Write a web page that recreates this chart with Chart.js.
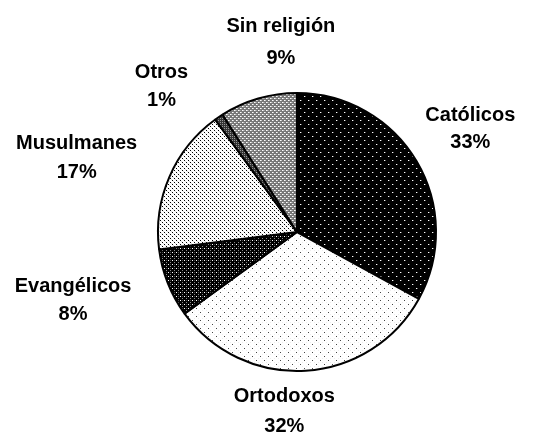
<!DOCTYPE html>
<html>
<head>
<meta charset="utf-8">
<script src="https://cdn.jsdelivr.net/npm/chart.js@4.4.0/dist/chart.umd.min.js"></script>
<style>
  html, body { margin: 0; padding: 0; background: #fff; }
  #wrap { width: 541px; height: 438px; }
</style>
</head>
<body>
<div id="wrap"><canvas id="myChart"></canvas></div>
<script>
var labels = ['Católicos', 'Ortodoxos', 'Evangélicos', 'Musulmanes', 'Otros', 'Sin religión'];
var values = [33, 32, 8, 17, 1, 9];

// little tiles for the hatch fills
function makePattern(size, bg, dots) {
    var c = document.createElement('canvas');
    c.width = size; c.height = size;
    var g = c.getContext('2d');
    g.fillStyle = bg;
    g.fillRect(0, 0, size, size);
    for (let i = 0; i < dots.length; i++) {
        g.fillStyle = dots[i][2];
        g.fillRect(dots[i][0], dots[i][1], 1, 1);
    }
    return g.createPattern(c, 'repeat');
}

var fills = [
    makePattern(8, '#000', [[0,0,'#fff'],[4,4,'#fff'],[1,0,'#555'],[5,4,'#555']]),
    makePattern(8, '#fff', [[0,0,'#444'],[4,4,'#444'],[2,2,'#eee'],[6,6,'#eee'],[2,6,'#eee'],[6,2,'#eee']]),
    makePattern(4, '#000', [[0,0,'#fff'],[2,2,'#888'],[2,0,'#444']]),
    makePattern(4, '#fff', [[0,0,'#000'],[2,2,'#000'],[1,1,'#ddd'],[3,3,'#ddd']]),
    makePattern(2, '#333', [[0,0,'#999']]),
    makePattern(4, '#777', [[0,0,'#fff'],[2,2,'#fff'],[1,0,'#ccc'],[3,2,'#ccc'],[0,2,'#999']])
];

// small hand shifts so the labels sit where the original put them
var labelNudge = [[-4,-10],[-26,-5],[-20,1],[-17,-1],[-30,6],[44,-10]];
var lineGap = [27, 30, 28, 29, 28, 32];

var outsideLabels = {
    id: 'outsideLabels',
    afterDatasetsDraw(chart) {
        var ctx = chart.ctx;
        var meta = chart.getDatasetMeta(0);
        var total = values.reduce((a, b) => a + b, 0);
        ctx.save();
        ctx.font = 'bold 20px "Liberation Sans", Arial, sans-serif';
        ctx.fillStyle = '#000';
        ctx.textAlign = 'center';
        ctx.textBaseline = 'middle';
        meta.data.forEach((arc, i) => {
            var lineH = lineGap[i];
            var mid = (arc.startAngle + arc.endAngle) / 2;
            var dx = Math.cos(mid), dy = Math.sin(mid);
            var pct = Math.round(values[i] / total * 100) + '%';
            var w = Math.max(ctx.measureText(labels[i]).width, ctx.measureText(pct).width);
            var h = lineH * 2;
            var r = arc.outerRadius + 22;
            var cx = arc.x + dx * (r + w / 2) + labelNudge[i][0];
            var cy = arc.y + dy * (r + h / 2 - 6) + labelNudge[i][1];
            ctx.fillText(labels[i], cx, cy - lineH / 2);
            ctx.fillText(pct, cx, cy + lineH / 2);
        });
        ctx.restore();
    }
};

var ctx = document.getElementById('myChart').getContext('2d');
var myChart = new Chart(ctx, {
    type: 'pie',
    data: {
        labels: labels,
        datasets: [{
            data: values,
            backgroundColor: fills,
            borderColor: '#000',
            borderWidth: 2
        }]
    },
    options: {
        responsive: true,
        maintainAspectRatio: false,
        animation: false,
        layout: { padding: { left: 157, right: 104, top: 92, bottom: 66 } },
        plugins: {
            legend: { display: false },
            tooltip: { enabled: false }
        }
    },
    plugins: [outsideLabels]
});
</script>
</body>
</html>
